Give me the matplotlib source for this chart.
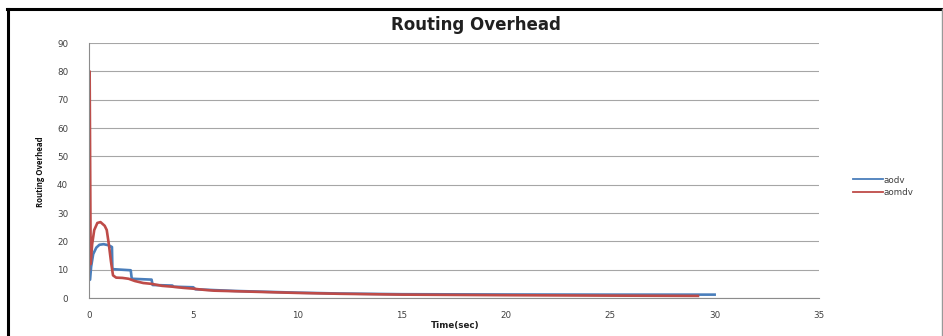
import matplotlib
matplotlib.use("Agg")
import matplotlib.pyplot as plt
from matplotlib.lines import Line2D

# data
aodv_t = [0, 0.05, 0.1, 0.2, 0.35, 0.5, 0.7, 0.95, 1.05, 1.1, 1.12, 2.0, 2.05, 3.0, 3.05,
          4.0, 4.05, 5.0, 5.1, 6, 7, 8, 10, 12, 15, 20, 25, 30]
aodv_v = [6.3, 6.5, 11, 15.5, 17.8, 18.8, 19, 18.6, 18.2, 18, 10.2, 9.8, 6.8, 6.5, 4.6,
          4.4, 4.0, 3.8, 3.1, 2.8, 2.5, 2.3, 1.9, 1.6, 1.35, 1.25, 1.2, 1.2]

aomdv_t = [0, 0.03, 0.08, 0.15, 0.25, 0.4, 0.55, 0.75, 0.85, 0.95, 1.05, 1.15, 1.3, 1.6,
           1.9, 2.2, 2.6, 3.0, 3.5, 4.0, 4.5, 5.0, 5.5, 6, 7, 8, 10, 12, 15, 20, 25, 29.2]
aomdv_v = [10, 80, 12, 19, 24, 26.5, 26.8, 25.5, 24, 19, 13, 8, 7.2, 7.1, 6.8, 6, 5.3, 5,
           4.3, 4.0, 3.6, 3.3, 2.9, 2.6, 2.4, 2.2, 1.8, 1.5, 1.2, 1.0, 0.85, 0.75]

xticks = [0, 5, 10, 15, 20, 25, 30, 35]
yticks = [0, 10, 20, 30, 40, 50, 60, 70, 80, 90]

plt.rcParams['font.family'] = ['DejaVu Sans']

fig = plt.figure(figsize=(9.43, 3.36), dpi=100)
ax = fig.add_axes([0.0944, 0.113, 0.774, 0.759])

ax.plot(aodv_t, aodv_v, color="#4a7ebb", lw=1.9, label="aodv", solid_joinstyle="round")
ax.plot(aomdv_t, aomdv_v, color="#be4b48", lw=1.9, label="aomdv", solid_joinstyle="round")

ax.set_xlim(0, 35)
ax.set_ylim(0, 90)
ax.set_xticks(xticks)
ax.set_yticks(yticks)
ax.grid(axis="y", color="#a6a6a6", lw=0.8)
ax.set_axisbelow(True)
for s in ["top", "right"]:
    ax.spines[s].set_visible(False)
for s in ["left", "bottom"]:
    ax.spines[s].set_color("#8c8c8c")
    ax.spines[s].set_linewidth(0.8)
ax.tick_params(length=0, labelsize=6.3, colors="#404040", pad=15)
ax.tick_params(axis="x", pad=9)

fig.text(0.505, 0.926, "Routing Overhead", ha="center", va="center",
         fontsize=12, fontweight="bold", color="#202020")
fig.text(0.483, 0.030, "Time(sec)", ha="center", va="center",
         fontsize=6.3, fontweight="bold", color="#202020")
fig.text(0.043, 0.49, "Routing Overhead", ha="center", va="center", rotation=90,
         fontsize=5.6, fontweight="bold", color="#101010",
         family=["Open Sans", "DejaVu Sans"])

leg = fig.legend(loc="center left", bbox_to_anchor=(0.896, 0.445), frameon=False,
                 fontsize=6.3, handlelength=3.4, handletextpad=0.1, labelspacing=0.45,
                 labelcolor="#404040")
for h in leg.get_lines():
    h.set_linewidth(1.3)

# picture frame
fig.add_artist(Line2D([7 / 943, 1], [1 - 9 / 336, 1 - 9 / 336], color="black", lw=2.2))
fig.add_artist(Line2D([8 / 943, 8 / 943], [0, 1 - 9 / 336], color="black", lw=2.2))
fig.add_artist(Line2D([942 / 943, 942 / 943], [0, 1 - 9 / 336], color="#999999", lw=1))

fig.savefig("out.png", dpi=100)
